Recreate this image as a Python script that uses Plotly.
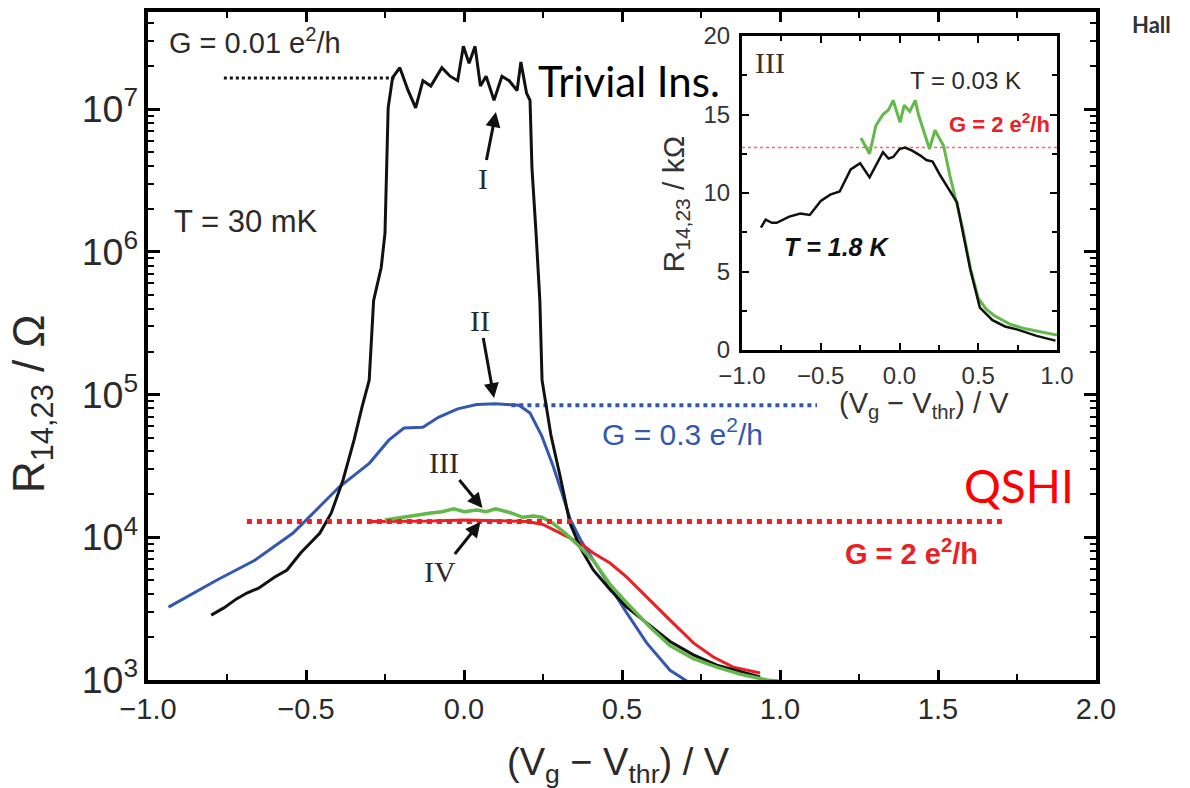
import plotly.graph_objects as go

# ---------------- data ----------------
# Main panel: R14,23 (Ohm) vs (Vg - Vthr) (V)
x_I = [-0.80, -0.76, -0.72, -0.687, -0.65, -0.60, -0.56, -0.517, -0.456, -0.42, -0.383, -0.348, -0.323, -0.30,
       -0.286, -0.262, -0.25, -0.244, -0.24, -0.226, -0.203, -0.177, -0.153, -0.13, -0.105, -0.07, -0.044,
       -0.02, -0.002, 0.016, 0.035, 0.052, 0.07, 0.095, 0.12, 0.143, 0.168, 0.18, 0.198, 0.209, 0.215,
       0.228, 0.24, 0.247, 0.275, 0.307, 0.335, 0.37, 0.409, 0.462, 0.515, 0.578, 0.652, 0.726, 0.80,
       0.873, 0.937]
R_I = [2.85e3, 3.2e3, 3.7e3, 4.07e3, 4.4e3, 5.25e3, 5.9e3, 7.76e3, 1.07e4, 1.48e4, 2.51e4, 4.79e4, 8.13e4, 1.26e5,
       4.57e5, 7.76e5, 1.35e6, 3.89e6, 1.02e7, 1.66e7, 1.95e7, 1.35e7, 1.02e7, 1.58e7, 1.45e7, 1.95e7, 1.70e7,
       1.58e7, 2.75e7, 2.09e7, 2.75e7, 1.45e7, 1.70e7, 1.15e7, 1.70e7, 1.58e7, 1.35e7, 2.14e7, 1.29e7, 1.15e7, 3.89e6,
       1.35e6, 4.57e5, 1.26e5, 5.2e4, 2.51e4, 1.26e4, 8.3e3, 5.9e3, 4.3e3, 3.24e3, 2.51e3, 1.86e3, 1.5e3, 1.27e3,
       1.15e3, 1.05e3]

x_II = [-0.935, -0.86, -0.783, -0.662, -0.541, -0.468, -0.396, -0.299, -0.238, -0.19, -0.13, -0.081, -0.02,
        0.04, 0.10, 0.174, 0.209, 0.246, 0.282, 0.31, 0.337, 0.37, 0.409, 0.462, 0.515, 0.578, 0.652, 0.706]
R_II = [3.24e3, 4.0e3, 5.0e3, 6.9e3, 1.07e4, 1.55e4, 2.24e4, 3.31e4, 4.79e4, 5.82e4, 5.89e4, 6.92e4, 7.94e4,
        8.51e4, 8.61e4, 8.41e4, 7.41e4, 5.13e4, 3.16e4, 2.04e4, 1.32e4, 9.5e3, 6.9e3, 4.47e3, 2.95e3, 1.82e3,
        1.17e3, 9.8e2]

x_III = [-0.25, -0.2, -0.154, -0.105, -0.07, -0.032, 0.0, 0.041, 0.07, 0.10, 0.149, 0.186, 0.22, 0.246, 0.28,
         0.32, 0.354, 0.409, 0.462, 0.515, 0.589, 0.652, 0.726, 0.80, 0.873, 0.958, 1.0]
R_III = [1.32e4, 1.38e4, 1.43e4, 1.48e4, 1.51e4, 1.58e4, 1.51e4, 1.55e4, 1.51e4, 1.58e4, 1.48e4, 1.38e4, 1.41e4,
         1.38e4, 1.26e4, 1.07e4, 9.1e3, 6.9e3, 4.68e3, 3.47e3, 2.34e3, 1.74e3, 1.41e3, 1.23e3, 1.10e3, 1.0e3,
         9.8e2]

x_IV = [-0.30, -0.2, -0.1, 0.0, 0.1, 0.2, 0.25, 0.304, 0.367, 0.409, 0.462, 0.515, 0.578, 0.652, 0.726, 0.789,
        0.852, 0.937]
R_IV = [1.29e4, 1.29e4, 1.30e4, 1.32e4, 1.30e4, 1.29e4, 1.23e4, 1.07e4, 9.1e3, 7.76e3, 6.6e3, 5.25e3, 3.8e3,
        2.63e3, 1.82e3, 1.45e3, 1.23e3, 1.12e3]

# reference levels (Ohm) and their extents (V)
G001_R, G001_x = 1.65e7, [-0.76, -0.22]
G03_R, G03_x = 8.4e4, [0.15, 1.117]
G2_R, G2_x = 1.29e4, [-0.687, 1.718]

# Inset: R14,23 (kOhm) vs (Vg - Vthr) (V)
xi_18K = [-0.88, -0.85, -0.81, -0.78, -0.70, -0.63, -0.57, -0.50, -0.44, -0.38, -0.31, -0.25, -0.19, -0.14,
          -0.105, -0.07, -0.04, 0.0, 0.035, 0.08, 0.13, 0.17, 0.21, 0.26, 0.29, 0.32, 0.365, 0.40, 0.45, 0.51,
          0.59, 0.67, 0.75, 0.87, 0.99]
Ri_18K = [7.8, 8.3, 8.1, 8.1, 8.5, 8.7, 8.6, 9.5, 9.9, 10.1, 11.5, 11.9, 11.0, 11.9, 12.6, 12.2, 12.3, 12.8,
          12.9, 12.7, 12.4, 12.1, 12.0, 11.1, 10.6, 10.1, 9.4, 7.6, 5.1, 2.7, 1.9, 1.5, 1.3, 0.9, 0.6]
xi_003K = [-0.245, -0.19, -0.15, -0.105, -0.07, -0.04, 0.003, 0.03, 0.065, 0.10, 0.12, 0.15, 0.19, 0.225,
           0.28, 0.32, 0.35, 0.40, 0.45, 0.50, 0.55, 0.60, 0.70, 0.80, 0.90, 1.0]
Ri_003K = [13.5, 12.5, 14.3, 15.0, 15.3, 15.9, 14.5, 15.6, 15.2, 15.9, 15.0, 14.1, 12.8, 14.0, 13.0, 11.1, 9.8,
           7.8, 5.2, 3.3, 2.6, 2.2, 1.65, 1.35, 1.15, 0.95]
Gi_R, Gi_x = 12.9, [-1.0, 1.0]

# ---------------- styles ----------------
BLACK = "#111111"
BLUE = "#3458b0"
RED = "#ec2024"
GREEN = "#62b94a"
FONT = "Liberation Sans"
TXT = "#2a2a2a"

fig = go.Figure()

# reference dotted lines
fig.add_trace(go.Scatter(x=G001_x, y=[G001_R, G001_R], mode="lines",
                         line=dict(color=BLACK, width=3, dash="dot"), showlegend=False))
fig.add_trace(go.Scatter(x=G03_x, y=[G03_R, G03_R], mode="lines",
                         line=dict(color=BLUE, width=4, dash="dot"), showlegend=False))

# curves
fig.add_trace(go.Scatter(x=x_II, y=R_II, mode="lines", line=dict(color=BLUE, width=3), showlegend=False))
fig.add_trace(go.Scatter(x=x_IV, y=R_IV, mode="lines", line=dict(color=RED, width=3), showlegend=False))
fig.add_trace(go.Scatter(x=x_I, y=R_I, mode="lines", line=dict(color=BLACK, width=3), showlegend=False))
fig.add_trace(go.Scatter(x=x_III, y=R_III, mode="lines", line=dict(color=GREEN, width=3.5), showlegend=False))
fig.add_trace(go.Scatter(x=G2_x, y=[G2_R, G2_R], mode="lines",
                         line=dict(color=RED, width=5, dash="dot"), showlegend=False))

# inset
fig.add_trace(go.Scatter(x=Gi_x, y=[Gi_R, Gi_R], mode="lines", xaxis="x2", yaxis="y2",
                         line=dict(color="#f06a6a", width=1.5, dash="dot"), showlegend=False))
fig.add_trace(go.Scatter(x=xi_003K, y=Ri_003K, mode="lines", xaxis="x2", yaxis="y2",
                         line=dict(color=GREEN, width=3), showlegend=False))
fig.add_trace(go.Scatter(x=xi_18K, y=Ri_18K, mode="lines", xaxis="x2", yaxis="y2",
                         line=dict(color=BLACK, width=2.5), showlegend=False))

axis_common = dict(showgrid=False, zeroline=False, showline=True, linecolor="#000000", mirror="allticks",
                   ticks="inside", tickcolor="#000000", automargin=False, layer="above traces")

fig.update_layout(
    template="none",
    width=1190, height=788, showlegend=False,
    margin=dict(l=148, r=94, t=12, b=108, pad=0),
    paper_bgcolor="white", plot_bgcolor="rgba(0,0,0,0)",
    font=dict(family=FONT, color=TXT),
    xaxis=dict(range=[-1.0, 2.0], domain=[0, 1], anchor="y", dtick=0.5, tick0=0, tickformat=".1f",
               ticklen=10, tickwidth=3, linewidth=4,
               tickfont=dict(size=29, color=TXT),
               minor=dict(ticks="inside", ticklen=6, tickwidth=2, dtick=0.25, tick0=0, tickcolor="#000000"),
               **axis_common),
    yaxis=dict(type="log", range=[3, 7.68], domain=[0, 1], anchor="x", dtick=1, exponentformat="power",
               showexponent="all",
               ticklen=12, tickwidth=3, linewidth=4,
               tickfont=dict(size=30, color=TXT),
               minor=dict(ticks="inside", ticklen=6, tickwidth=2, dtick="D1", tickcolor="#000000"),
               **axis_common),
    xaxis2=dict(range=[-1.0, 1.0], domain=[0.6266, 0.9589], anchor="y2", dtick=0.5, tick0=0,
                tickformat=".1f", ticklen=7, tickwidth=2, linewidth=3, ticklabelstandoff=2,
                tickfont=dict(size=24, color="#333333"),
                minor=dict(ticks="inside", ticklen=5, tickwidth=1.5, dtick=0.25, tick0=0, tickcolor="#000000"),
                **axis_common),
    yaxis2=dict(range=[0, 20], domain=[0.494, 0.964], anchor="x2", dtick=5, tick0=0,
                ticklen=7, tickwidth=2, linewidth=3, ticklabelstandoff=4,
                tickfont=dict(size=24, color="#333333"),
                minor=dict(ticks="inside", ticklen=5, tickwidth=1.5, dtick=2.5, tick0=0, tickcolor="#000000"),
                **axis_common),
)

C = dict(xanchor="center", yanchor="middle", showarrow=False)
L = dict(xanchor="left", yanchor="middle", showarrow=False)
ann = []
# axis titles
ann.append(dict(xref="paper", yref="paper", x=0.4958, y=-0.127, **C,
                text="(V<sub>g</sub> − V<sub>thr</sub>) / V", font=dict(size=38, color=TXT)))
ann.append(dict(xref="paper", yref="paper", x=-0.1224, y=0.413, textangle=-90, **C,
                text="R<sub>14,23</sub> / Ω", font=dict(size=44, color=TXT)))
ann.append(dict(xref="paper", yref="paper", x=0.8186, y=0.4117, **C,
                text="(V<sub>g</sub> − V<sub>thr</sub>) / V", font=dict(size=29, color="#333333")))
ann.append(dict(xref="paper", yref="paper", x=0.556, y=0.712, textangle=-90, **C,
                text="R<sub>14,23</sub> / kΩ", font=dict(size=30, color="#333333")))

# main panel labels
ann.append(dict(x=-0.94, y=7.48, **L,
                text="G = 0.01 e<sup>2</sup>/h", font=dict(size=29, color=TXT)))
ann.append(dict(x=-0.924, y=6.21, **L,
                text="T = 30 mK", font=dict(size=31, color=TXT)))
ann.append(dict(x=0.228, y=7.20, **L,
                text="Trivial Ins.", font=dict(size=42, color="#000000", family="Lato")))
ann.append(dict(x=0.430, y=4.74, **L,
                text="G = 0.3 e<sup>2</sup>/h", font=dict(size=30, color=BLUE)))
ann.append(dict(x=1.576, y=4.36, **L,
                text="QSHI", font=dict(size=46, color="#ff0000", family="Lato")))
ann.append(dict(x=1.199, y=3.90, **L,
                text="<b>G = 2 e<sup>2</sup>/h</b>", font=dict(size=29, color=RED)))
ann.append(dict(xref="paper", yref="paper", x=1.036, y=0.982, **L,
                text="<b>Hall</b>", font=dict(size=22, color="#333333", family="Lato")))

# arrows with roman numerals
SERIF = dict(size=30, color=TXT, family="Liberation Serif")
for label, tx, ty, ax, ay in [("I", 0.101, 6.979, -13, 66), ("II", 0.095, 4.975, -14, -78),
                              ("III", 0.0585, 4.205, -38, -46), ("IV", 0.052, 4.107, -40, 50)]:
    ann.append(dict(x=tx, y=ty, ax=ax, ay=ay, text=label, showarrow=True, arrowhead=2, arrowsize=1,
                    arrowwidth=3, arrowcolor=BLACK, font=SERIF, standoff=0))

# inset labels
ann.append(dict(xref="x2", yref="y2", x=-0.822, y=18.3, **C, text="III",
                font=dict(size=30, color="#333333", family="Liberation Serif")))
ann.append(dict(xref="x2", yref="y2", x=0.422, y=17.15, **C, text="T = 0.03 K",
                font=dict(size=24, color=TXT)))
ann.append(dict(xref="x2", yref="y2", x=0.632, y=14.45, **C, text="<b>G = 2 e<sup>2</sup>/h</b>",
                font=dict(size=22, color=RED)))
ann.append(dict(xref="x2", yref="y2", x=-0.403, y=6.55, **C, text="<b><i>T = 1.8 K</i></b>",
                font=dict(size=25, color="#111111")))

fig.update_layout(annotations=ann)
fig.write_html("out.html")
